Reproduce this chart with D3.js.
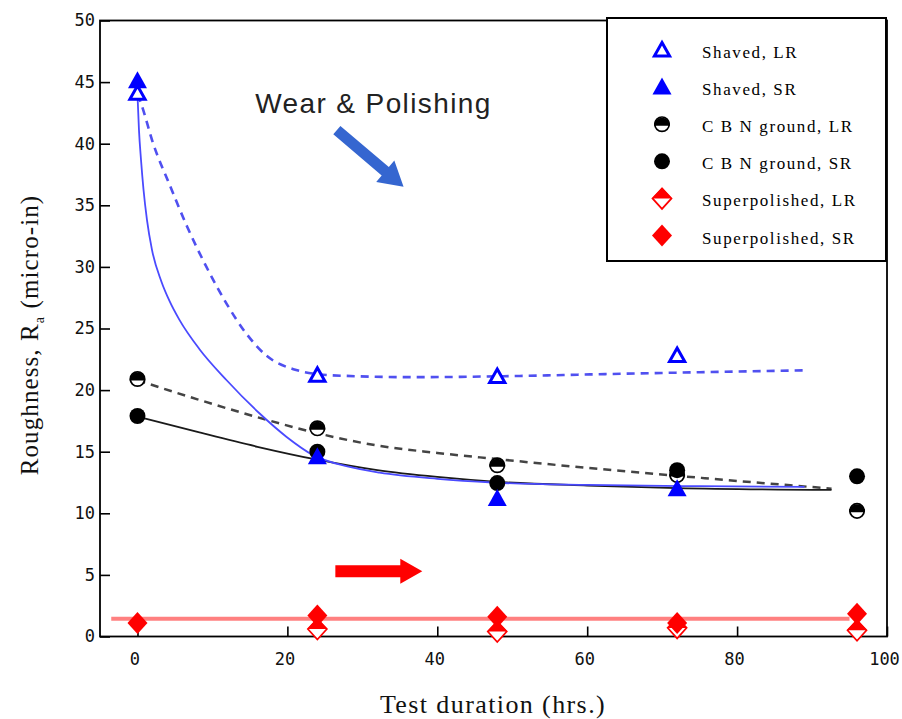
<!DOCTYPE html>
<html>
<head>
<meta charset="utf-8">
<script src="https://cdn.jsdelivr.net/npm/d3@7"></script>
<style>
  html, body { margin: 0; padding: 0; background: #fff; }
  svg { display: block; }
</style>
</head>
<body>
<div id="chart"></div>
<script>
// measured points (hours, Ra micro-in)
const shavedLR = [[0, 44.1], [24, 21.2], [48, 21.1], [72, 22.8]];
const shavedSR = [[0, 45.1], [24, 14.6], [48, 11.2], [72, 12.0]];
const cbnLR = [[0, 20.9], [24, 16.9], [48, 13.9], [72, 13.1], [96, 10.2]];
const cbnSR = [[0, 17.9], [24, 15.0], [48, 12.45], [72, 13.5], [96, 13.0]];
const superLR = [[24, 0.6], [48, 0.4], [72, 0.7], [96, 0.5]];
const superSR = [[0, 1.1], [24, 1.7], [48, 1.6], [72, 1.1], [96, 1.85]];

// trend curves
const fitShavedLR = [[0, 44.0], [0.4, 43.4], [2.1, 40.0], [4.4, 36.5], [6.6, 33.3], [9.2, 30.0],
  [11.9, 27.0], [14.5, 24.6], [17.2, 22.8], [20.8, 21.7], [26, 21.2], [36.7, 21.05], [51, 21.15],
  [62.4, 21.3], [75, 21.45], [89, 21.6]];
const fitShavedSR = [[0, 44.0], [0.2, 41.1], [0.47, 38.7], [0.8, 36.3], [1.27, 33.8], [1.93, 31.4],
  [3.2, 28.8], [4.3, 27.2], [5.6, 25.7], [8.3, 23.3], [11.9, 20.8], [16.3, 18.1], [19.9, 16.2],
  [23.5, 14.7], [28, 13.8], [32.3, 13.3], [40, 12.8], [47.4, 12.5], [60, 12.3], [75, 12.2], [89, 12.15]];
const fitCbnLR = [[0, 20.8], [8, 19.25], [16, 17.8], [24, 16.5], [32, 15.5], [40, 14.9],
  [48, 14.4], [58, 13.8], [75.7, 12.85], [92.6, 12.0]];
const fitCbnSR = [[0, 17.85], [8, 16.6], [16, 15.4], [24, 14.35], [32, 13.5], [40, 12.95],
  [48, 12.55], [60, 12.25], [72, 12.05], [92.6, 11.9]];
const fitSuper = [[-3.5, 1.45], [95, 1.45]];

const xTicks = [0, 20, 40, 60, 80, 100];
const yTicks = [0, 5, 10, 15, 20, 25, 30, 35, 40, 45, 50];

const legendItems = [
  { label: "Shaved, LR", marker: "triOpen" },
  { label: "Shaved, SR", marker: "triFilled" },
  { label: "C B N ground, LR", marker: "circHalf" },
  { label: "C B N ground, SR", marker: "circFilled" },
  { label: "Superpolished, LR", marker: "diaHalf" },
  { label: "Superpolished, SR", marker: "diaFilled" }
];

// annotation arrows in data units: [tailX, tailY, tipX, tipY]
const wearArrow = [26.6, 41.1, 35.5, 36.5];
const flatArrow = [26.4, 5.3, 38.0, 5.3];

const WIDTH = 902;
const HEIGHT = 719;
const BLUE = "#0000ff";
const RED = "#ff0000";

const svg = d3.select("#chart").append("svg")
  .attr("width", WIDTH)
  .attr("height", HEIGHT);

const x = d3.scaleLinear().domain([-5, 100]).range([100, 887]);
const y = d3.scaleLinear().domain([0, 50]).range([636.5, 20.5]);

// axes with inward ticks
const xAxis = svg.append("g")
  .attr("transform", `translate(0,${y(0)})`)
  .call(d3.axisBottom(x).tickValues(xTicks).tickSize(-10).tickPadding(16));
const yAxis = svg.append("g")
  .attr("transform", `translate(${x(-5)},0)`)
  .call(d3.axisLeft(y).tickValues(yTicks).tickSize(-10).tickPadding(5));

[xAxis, yAxis].forEach(a => {
  a.select(".domain").remove();
  a.selectAll(".tick line").attr("stroke", "#000").attr("stroke-width", 1.6);
  a.selectAll(".tick text")
    .attr("fill", "#111")
    .style("font-family", "'DejaVu Sans Mono', monospace")
    .style("font-size", "17px");
});
xAxis.selectAll(".tick text").attr("x", -3);

// frame
svg.append("rect")
  .attr("x", x(-5))
  .attr("y", y(50))
  .attr("width", x(100) - x(-5))
  .attr("height", y(0) - y(50))
  .attr("fill", "none")
  .attr("stroke", "#000")
  .attr("stroke-width", 1.8);

// trend lines
const line = d3.line()
  .x(d => x(d[0]))
  .y(d => y(d[1]))
  .curve(d3.curveMonotoneX);

const plot = svg.append("g");

plot.append("path").datum(fitSuper)
  .attr("d", line).attr("fill", "none")
  .attr("stroke", "#ff8080").attr("stroke-width", 4);

plot.append("path").datum(fitCbnLR)
  .attr("d", line).attr("fill", "none")
  .attr("stroke", "#444").attr("stroke-width", 2.5)
  .attr("stroke-dasharray", "8,6");

plot.append("path").datum(fitCbnSR)
  .attr("d", line).attr("fill", "none")
  .attr("stroke", "#1a1a1a").attr("stroke-width", 1.8);

plot.append("path").datum(fitShavedSR)
  .attr("d", line).attr("fill", "none")
  .attr("stroke", "#4a4aff").attr("stroke-width", 1.8);

plot.append("path").datum(fitShavedLR)
  .attr("d", line).attr("fill", "none")
  .attr("stroke", "#5050f0").attr("stroke-width", 2.6)
  .attr("stroke-dasharray", "8,6");

// markers
function drawMarker(g, kind) {
  if (kind === "triOpen") {
    g.append("path")
      .attr("d", "M0,-7.5L7.6,6L-7.6,6Z")
      .attr("fill", "#fff")
      .attr("stroke", BLUE)
      .attr("stroke-width", 3);
  } else if (kind === "triFilled") {
    g.append("path")
      .attr("d", "M0,-9.5L9.5,7.5L-9.5,7.5Z")
      .attr("fill", BLUE);
  } else if (kind === "circFilled") {
    g.append("circle").attr("r", 8).attr("fill", "#000");
  } else if (kind === "circHalf") {
    g.append("circle").attr("r", 7.2).attr("fill", "#fff")
      .attr("stroke", "#000").attr("stroke-width", 1.7);
    g.append("path").attr("d", "M-8,1.5A8,8 0 0 1 8,1.5Z").attr("fill", "#000");
  } else if (kind === "diaFilled") {
    g.append("path").attr("d", "M0,-11L10,0L0,11L-10,0Z").attr("fill", RED);
  } else if (kind === "diaHalf") {
    g.append("path").attr("d", "M0,-10L9.5,0L0,10.5L-9.5,0Z").attr("fill", "#fff")
      .attr("stroke", RED).attr("stroke-width", 1.7);
    g.append("path").attr("d", "M0,-11L10,0L-10,0Z").attr("fill", RED);
  }
}

function drawSeries(data, kind) {
  plot.selectAll(null)
    .data(data)
    .enter()
    .append("g")
    .attr("transform", d => `translate(${x(d[0])},${y(d[1])})`)
    .each(function () { drawMarker(d3.select(this), kind); });
}

drawSeries(superLR, "diaHalf");
drawSeries(superSR, "diaFilled");
drawSeries(cbnLR, "circHalf");
drawSeries(cbnSR, "circFilled");
drawSeries(shavedLR, "triOpen");
drawSeries(shavedSR, "triFilled");

// arrows
function drawArrow(a, color, shaft, headW, headL) {
  const x0 = x(a[0]), y0 = y(a[1]), x1 = x(a[2]), y1 = y(a[3]);
  const len = Math.hypot(x1 - x0, y1 - y0);
  const ux = (x1 - x0) / len, uy = (y1 - y0) / len;
  const nx = -uy, ny = ux;
  const bx = x1 - ux * headL, by = y1 - uy * headL;
  const pts = [
    [x0 + nx * shaft / 2, y0 + ny * shaft / 2],
    [bx + nx * shaft / 2, by + ny * shaft / 2],
    [bx + nx * headW / 2, by + ny * headW / 2],
    [x1, y1],
    [bx - nx * headW / 2, by - ny * headW / 2],
    [bx - nx * shaft / 2, by - ny * shaft / 2],
    [x0 - nx * shaft / 2, y0 - ny * shaft / 2]
  ];
  svg.append("path")
    .attr("d", "M" + pts.map(p => p.join(",")).join("L") + "Z")
    .attr("fill", color);
}

drawArrow(wearArrow, "#3566d0", 11, 28, 24);
drawArrow(flatArrow, RED, 12, 25, 22);

svg.append("text")
  .attr("x", x(15.7))
  .attr("y", y(42.5))
  .attr("fill", "#222")
  .style("font-family", "'Liberation Sans', Arial, sans-serif")
  .style("font-size", "28px")
  .style("letter-spacing", "1.4px")
  .text("Wear & Polishing");

// legend
const legend = svg.append("g");
legend.append("rect")
  .attr("x", 607).attr("y", 18)
  .attr("width", 279).attr("height", 243)
  .attr("fill", "#fff")
  .attr("stroke", "#000")
  .attr("stroke-width", 2);

legendItems.forEach((item, i) => {
  const rowY = 50 + i * 37.1;
  const mg = legend.append("g").attr("transform", `translate(662,${rowY})`);
  drawMarker(mg, item.marker);
  legend.append("text")
    .attr("x", 702)
    .attr("y", rowY + 8)
    .attr("fill", "#000")
    .style("font-family", "'Liberation Serif', 'Times New Roman', serif")
    .style("font-size", "17px")
    .style("letter-spacing", "1.6px")
    .text(item.label);
});

// axis titles
svg.append("text")
  .attr("x", 493)
  .attr("y", 713)
  .attr("text-anchor", "middle")
  .attr("fill", "#111")
  .style("font-family", "'Liberation Serif', 'Times New Roman', serif")
  .style("font-size", "26px")
  .style("letter-spacing", "1.4px")
  .text("Test duration (hrs.)");

const yTitle = svg.append("text")
  .attr("transform", "translate(38,335) rotate(-90)")
  .attr("text-anchor", "middle")
  .attr("fill", "#111")
  .style("font-family", "'Liberation Serif', 'Times New Roman', serif")
  .style("font-size", "25px")
  .style("letter-spacing", "1.1px");
yTitle.append("tspan").text("Roughness, R");
yTitle.append("tspan").attr("dy", 6).style("font-size", "14px").text("a");
yTitle.append("tspan").attr("dy", -6).text(" (micro-in)");
</script>
</body>
</html>
